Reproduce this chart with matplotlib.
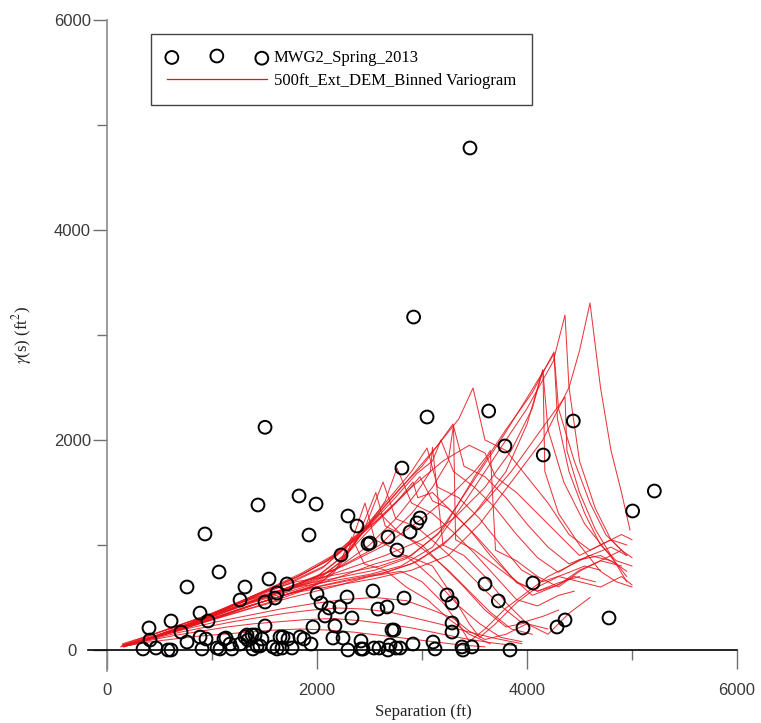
import matplotlib
matplotlib.use("Agg")
import matplotlib.pyplot as plt
from matplotlib.ticker import MultipleLocator

# ---------------- data ----------------
# Observed semivariance cloud (separation ft, gamma ft^2)
sep_obs = [3457, 2920, 1505, 3635, 4441, 3048, 3790, 4155, 5213, 5006,
           2809, 2981, 2952, 2886, 1829, 1991, 1924, 1438, 933, 2295,
           2381, 2505, 2486, 2676, 2762, 2229, 1067, 762, 1314, 1543,
           1267, 1505, 1600, 1619, 1714, 886, 962, 610, 400, 410,
           705, 762, 886, 943, 343, 467, 581, 610, 905, 1048,
           1076, 1114, 1133, 1171, 1190, 1267, 1333, 1381, 1410, 1390,
           1429, 1476, 1505, 1581, 1619, 1667, 1648, 1724, 1762, 1838,
           1876, 1943, 1962, 2000, 2038, 2114, 2076, 2171, 2152, 2248,
           2295, 2219, 2286, 2333, 2419, 2419, 2438, 2543, 2591, 2676,
           2714, 2752, 2533, 2581, 2667, 2829, 2733, 2695, 2914, 3105,
           3124, 3238, 3286, 3286, 3286, 3381, 3390, 3476, 3600, 4057,
           3727, 3962, 3838, 4286, 4362, 4781, 1314, 1343, 1457, 1676,
           2791]
gam_obs = [4781, 3171, 2121, 2276, 2181, 2219, 1943, 1857, 1514, 1324,
           1733, 1257, 1210, 1124, 1467, 1390, 1095, 1381, 1105, 1276,
           1181, 1019, 1010, 1076, 952, 905, 743, 600, 600, 676,
           476, 457, 495, 543, 629, 352, 276, 276, 210, 95,
           171, 76, 124, 105, 10, 19, 0, 0, 10, 19,
           10, 105, 114, 57, 10, 57, 143, 143, 143, 10,
           38, 105, 229, 29, 10, 19, 124, 105, 19, 124,
           105, 57, 219, 533, 448, 400, 324, 229, 114, 114,
           0, 410, 505, 305, 10, 86, 9, 19, 19, 0,
           190, 19, 562, 390, 410, 495, 190, 48, 57, 76,
           10, 524, 448, 257, 171, 29, 0, 29, 629, 638,
           467, 210, 0, 219, 286, 305, 124, 95, 38, 124,
           19]

# Binned variogram curves (separation ft, gamma ft^2), one list per curve
var_x = [
    # low curves
    [130, 350, 600, 850, 1100, 1350, 1600, 1850, 2100, 2350, 2600, 2850, 3100, 3350, 3600],
    [140, 400, 650, 900, 1150, 1400, 1650, 1900, 2150, 2400, 2650, 2900, 3150, 3400, 3650, 3900],
    [150, 450, 700, 950, 1200, 1450, 1700, 1950, 2200, 2450, 2700, 2950, 3200, 3450, 3700, 3950],
    [160, 450, 750, 1050, 1350, 1650, 1950, 2250, 2550, 2850, 3100, 3300, 3450, 3600, 3800, 4000, 4200],
    # fan curves
    [150, 400, 700, 1000, 1300, 1600, 1850, 2050, 2200, 2330, 2450, 2650, 2850, 3050, 3250, 3450, 3650],
    [160, 450, 750, 1050, 1350, 1650, 1950, 2150, 2300, 2457, 2550, 2750, 2950, 3150, 3350, 3550, 3750, 3950],
    [165, 480, 780, 1080, 1380, 1680, 1980, 2200, 2380, 2560, 2650, 2850, 3050, 3250, 3450, 3650, 3850, 4050],
    [175, 520, 820, 1120, 1420, 1720, 2020, 2200, 2350, 2500, 2600, 2800, 3000, 3200, 3400, 3600, 3800, 4000],
    [170, 500, 800, 1100, 1400, 1700, 2000, 2250, 2450, 2629, 2750, 2950, 3150, 3350, 3550, 3750, 3950, 4150, 4300],
    [180, 500, 800, 1100, 1400, 1700, 2000, 2250, 2500, 2650, 2762, 2900, 3100, 3300, 3500, 3700, 3900, 4100, 4300, 4450],
    [190, 530, 830, 1130, 1430, 1730, 2030, 2300, 2550, 2750, 2914, 2960, 3100, 3300, 3500, 3700, 3900, 4100, 4300, 4500],
    [230, 620, 920, 1220, 1520, 1820, 2120, 2400, 2650, 2850, 2980, 3100, 3250, 3450, 3650, 3850, 4050, 4250, 4450, 4650],
    [200, 550, 850, 1150, 1450, 1750, 2050, 2350, 2650, 2900, 3048, 3150, 3350, 3550, 3750, 3950, 4150, 4350, 4550, 4700],
    [210, 570, 870, 1170, 1470, 1770, 2070, 2400, 2700, 2950, 3100, 3180, 3300, 3500, 3700, 3900, 4100, 4300, 4500, 4700, 4850],
    [220, 600, 900, 1200, 1500, 1800, 2100, 2450, 2800, 3000, 3150, 3295, 3400, 3600, 3800, 4000, 4200, 4400, 4600, 4800, 4950],
    [240, 650, 950, 1250, 1550, 1850, 2150, 2500, 2850, 3150, 3350, 3486, 3600, 3800, 4000, 4200, 4400, 4600, 4800, 4950],
    [260, 700, 1000, 1300, 1600, 1900, 2200, 2550, 2900, 3200, 3450, 3600, 3700, 3900, 4100, 4300, 4500, 4700, 4900, 5000],
    # spiked curves with steep drops
    [200, 600, 1000, 1400, 1800, 2200, 2600, 2900, 3100, 3250, 3300, 3320, 3500, 3700, 3900, 4100, 4300, 4500, 4700, 4900],
    [190, 580, 980, 1380, 1780, 2180, 2500, 2750, 2950, 3080, 3100, 3200, 3400, 3600, 3800, 4000, 4200, 4400, 4600],
    [230, 650, 1050, 1450, 1850, 2250, 2650, 3000, 3300, 3500, 3620, 3650, 3700, 3900, 4100, 4300, 4500, 4700, 4900],
    [220, 650, 1050, 1450, 1850, 2250, 2650, 3000, 3300, 3600, 3850, 4050, 4152, 4170, 4300, 4500, 4700, 4850, 5000],
    # curves dipping low then recovering
    [180, 550, 950, 1350, 1750, 2150, 2500, 2800, 3000, 3200, 3350, 3450, 3600, 3800, 4000, 4200, 4400, 4600, 4800, 4950],
    [200, 600, 1000, 1400, 1800, 2200, 2550, 2850, 3100, 3300, 3450, 3550, 3700, 3900, 4100, 4300, 4500, 4700, 4900, 5000],
    # long curves
    [150, 600, 1000, 1400, 1800, 2200, 2600, 2900, 3200, 3500, 3800, 4050, 4257, 4300, 4450, 4600, 4750, 4900, 5000],
    [150, 550, 950, 1350, 1750, 2150, 2550, 2850, 3150, 3450, 3750, 4000, 4257, 4290, 4400, 4550, 4700, 4850, 5000],
    [150, 500, 900, 1300, 1700, 2100, 2500, 2800, 3100, 3400, 3700, 4000, 4250, 4362, 4400, 4500, 4650, 4800, 4950],
    [160, 550, 950, 1350, 1750, 2150, 2550, 2900, 3250, 3550, 3850, 4150, 4400, 4500, 4600, 4700, 4800, 4900, 4981],
    [170, 600, 1000, 1400, 1800, 2200, 2600, 2900, 3200, 3500, 3800, 4000, 4150, 4200, 4350, 4550, 4750, 4950],
    [180, 650, 1050, 1450, 1850, 2250, 2650, 2950, 3250, 3550, 3850, 4100, 4362, 4380, 4500, 4650, 4800, 4950],
]
var_y = [
    [30, 70, 100, 130, 150, 170, 190, 200, 190, 170, 140, 110, 80, 50, 30],
    [40, 90, 140, 180, 220, 250, 270, 290, 300, 280, 250, 210, 160, 110, 70, 40],
    [50, 110, 170, 220, 270, 310, 350, 380, 400, 390, 360, 300, 240, 170, 110, 60],
    [40, 120, 200, 270, 330, 390, 440, 480, 500, 470, 380, 300, 180, 100, 150, 250, 200],
    [40, 110, 200, 290, 380, 470, 560, 650, 800, 1076, 820, 760, 600, 480, 300, 150, 60],
    [30, 120, 220, 320, 420, 510, 600, 720, 950, 1400, 1050, 960, 820, 640, 420, 250, 120, 80],
    [45, 140, 240, 350, 450, 540, 630, 780, 1050, 1500, 1180, 1080, 930, 760, 560, 360, 200, 150],
    [45, 145, 255, 365, 475, 580, 690, 820, 1000, 1200, 1300, 1100, 1000, 800, 600, 380, 220, 260],
    [50, 150, 260, 370, 470, 560, 660, 860, 1150, 1600, 1250, 1170, 1000, 820, 620, 420, 260, 320, 380],
    [40, 140, 250, 360, 470, 580, 700, 900, 1200, 1420, 1733, 1400, 1300, 1120, 920, 700, 480, 420, 520, 560],
    [45, 150, 270, 380, 490, 600, 720, 930, 1200, 1400, 1600, 1450, 1500, 1300, 1100, 880, 640, 560, 640, 700],
    [50, 180, 310, 440, 570, 700, 860, 1080, 1300, 1500, 1650, 1420, 1350, 1150, 900, 700, 520, 600, 700, 650],
    [50, 160, 280, 400, 520, 640, 780, 1050, 1400, 1700, 1924, 1550, 1450, 1250, 1000, 760, 650, 720, 800, 760],
    [50, 165, 290, 410, 540, 660, 800, 1080, 1400, 1680, 1800, 2000, 1700, 1550, 1350, 1100, 880, 740, 860, 900, 820],
    [45, 170, 300, 430, 560, 690, 850, 1150, 1550, 1750, 1950, 2152, 1750, 1650, 1450, 1200, 980, 820, 900, 980, 900],
    [55, 190, 320, 450, 590, 730, 900, 1200, 1600, 1950, 2200, 2495, 2000, 1900, 1650, 1400, 1100, 950, 1050, 1000],
    [55, 200, 330, 460, 600, 740, 920, 1220, 1550, 1800, 1950, 1876, 1650, 1500, 1300, 1100, 900, 1000, 1100, 1050],
    [50, 180, 320, 470, 620, 780, 1000, 1300, 1550, 1800, 2140, 1050, 950, 800, 650, 560, 620, 760, 850, 800],
    [45, 170, 310, 460, 610, 770, 1000, 1250, 1500, 1700, 1930, 1000, 900, 700, 450, 250, 150, 350, 500],
    [55, 200, 340, 490, 640, 800, 1000, 1250, 1500, 1700, 1850, 1900, 950, 850, 700, 600, 750, 850, 950],
    [50, 190, 330, 480, 620, 760, 900, 1050, 1250, 1550, 1900, 2300, 2667, 1700, 1300, 1000, 750, 650, 600],
    [40, 150, 270, 390, 500, 600, 700, 750, 650, 450, 250, 80, 200, 400, 550, 700, 800, 900, 850, 750],
    [50, 170, 300, 430, 560, 690, 820, 900, 800, 500, 250, 120, 250, 450, 600, 700, 650, 600, 700, 620],
    [60, 200, 350, 520, 650, 720, 800, 900, 1150, 1650, 2100, 2450, 2838, 2300, 1800, 1400, 1100, 950, 880],
    [50, 190, 330, 480, 600, 680, 760, 870, 1100, 1550, 2000, 2400, 2820, 2200, 1700, 1300, 1000, 850, 800],
    [40, 170, 310, 460, 580, 650, 720, 800, 980, 1400, 1850, 2300, 2750, 3190, 2500, 1800, 1350, 1050, 900],
    [30, 150, 280, 420, 540, 610, 680, 760, 900, 1200, 1600, 2000, 2500, 2850, 3305, 2500, 1900, 1500, 1143],
    [35, 160, 290, 430, 560, 640, 720, 820, 1000, 1300, 1700, 2150, 2667, 2100, 1600, 1200, 950, 700],
    [45, 180, 310, 450, 570, 660, 740, 840, 1050, 1350, 1700, 2050, 2410, 1900, 1500, 1150, 900, 650],
]

x_ticks = [0, 2000, 4000, 6000]
y_ticks = [0, 2000, 4000, 6000]
obs_label = "MWG2_Spring_2013"
var_label = "500ft_Ext_DEM_Binned Variogram"

# ---------------- figure ----------------
W, H = 761, 723
plt.rcParams["mathtext.fontset"] = "stix"
fig = plt.figure(figsize=(W / 100, H / 100), dpi=100)
ax = fig.add_axes([86 / W, 1 - 671 / H, 651 / W, 651 / H])
ax.set_xlim(-200, 6000)
ax.set_ylim(-200, 6000)

red = "#e8141c"
line_handle = None
for xs, ys in zip(var_x, var_y):
    ln, = ax.plot(xs, ys, color=red, lw=0.75, alpha=0.85, zorder=2)
    line_handle = ln

sc = ax.scatter(sep_obs, gam_obs, s=85, facecolors="none", edgecolors="black",
                linewidths=1.4, zorder=3)

# axes styling: spines cross at the origin
for side in ("top", "right"):
    ax.spines[side].set_visible(False)
ax.spines["left"].set_position(("data", 0))
ax.spines["bottom"].set_position(("data", 0))
ax.spines["left"].set_bounds(-200, 6000)
ax.spines["bottom"].set_bounds(-180, 6000)
ax.spines["left"].set_color("#8a8a8a")
ax.spines["bottom"].set_color("black")
ax.spines["left"].set_linewidth(1.2)
ax.spines["bottom"].set_linewidth(1.2)

ax.set_xticks(x_ticks)
ax.set_yticks(y_ticks)
ax.xaxis.set_minor_locator(MultipleLocator(1000))
ax.yaxis.set_minor_locator(MultipleLocator(1000))
ax.tick_params(which="both", direction="out", width=1.0, color="#707070",
               labelsize=12, labelcolor="#3a3a3a")
ax.tick_params(axis="x", which="major", length=14, pad=10)
ax.tick_params(axis="x", which="minor", length=7)
ax.tick_params(axis="y", which="major", length=10, pad=15)
ax.tick_params(axis="y", which="minor", length=7)
for lab in ax.get_xticklabels() + ax.get_yticklabels():
    lab.set_fontfamily("Liberation Sans")
plt.setp(ax.get_yticklabels(), ha="center")

fig.text(423 / W, 1 - 712 / H, "Separation (ft)", ha="center", va="center",
         fontsize=12, family="Liberation Serif", color="#222222")
fig.text(22 / W, 1 - 335 / H, r"$\gamma$(s) (ft$^2$)", ha="center", va="center",
         rotation=90, fontsize=12, family="Liberation Serif", color="#222222")

leg = ax.legend([sc, line_handle], [obs_label, var_label],
                loc="upper left", bbox_to_anchor=((151 - 86) / 651, (671 - 34) / 651),
                borderaxespad=0, scatterpoints=3, handlelength=6.0, handletextpad=0.4,
                borderpad=0.95, labelspacing=0.45, fancybox=False, framealpha=1,
                prop={"family": "Liberation Serif", "size": 12})
leg.get_frame().set_edgecolor("#444444")
leg.get_frame().set_linewidth(1.0)
leg_sc, leg_ln = leg.legend_handles
leg_sc.set_alpha(1)
leg_ln.set_color(red)
leg_ln.set_alpha(1)
leg_ln.set_linewidth(0.9)

fig.savefig("out.png", dpi=100)
